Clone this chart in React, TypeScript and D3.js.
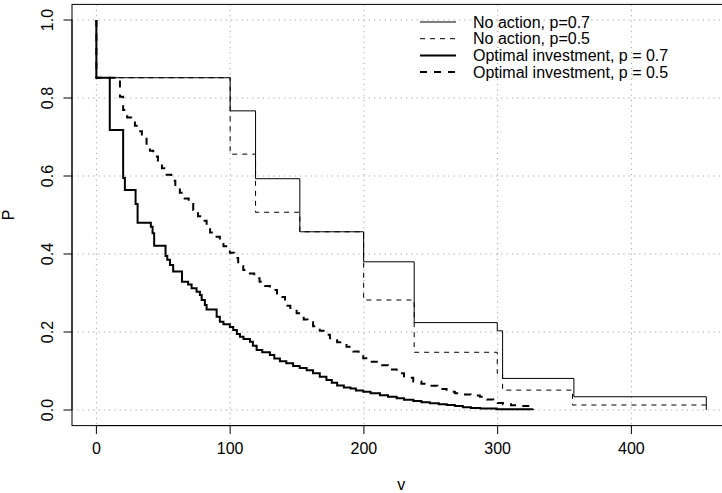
import React from "react";
import * as d3 from "d3";

// ---------- data ----------
const xTicks = [0, 100, 200, 300, 400];
const yTicks = [0, 0.2, 0.4, 0.6, 0.8, 1.0];
const yTickLabels = ["0.0", "0.2", "0.4", "0.6", "0.8", "1.0"];

// No action, p = 0.7 (step function, value holds from v until next v)
const noAct07V = [0, 0, 100, 119, 152.1, 199.8, 237.6, 299.7, 303.7, 357, 456];
const noAct07P = [1.0, 0.852, 0.767, 0.593, 0.457, 0.38, 0.224, 0.203, 0.081, 0.034, 0.0];

// No action, p = 0.5
const noAct05V = [0, 0, 100, 119, 152.1, 199.8, 237.6, 299.7, 303.7, 356, 456];
const noAct05P = [1.0, 0.852, 0.656, 0.507, 0.457, 0.282, 0.148, 0.094, 0.051, 0.0128, 0.0128];

// Optimal investment, p = 0.7
const opt07V = [0, 0, 10, 20, 21.3, 29.3, 30.8, 40.7, 42, 43.2, 51.7, 53, 55, 57.4, 64, 68.6, 71.2, 74.9, 77.4, 78.7, 81.1, 82.4, 89.9, 92.3, 95, 99.8, 102.3, 105, 107.3, 110, 114.8, 117, 119.8, 124, 129.7, 133, 137.2, 142, 147.1, 152, 157.2, 162, 167, 172, 176, 180, 185, 190, 194, 199.5, 205, 212, 218, 224.5, 230, 237, 243, 249.3, 256, 262, 268, 274, 280, 287, 299, 326.6];
const opt07P = [1.0, 0.852, 0.718, 0.595, 0.564, 0.528, 0.48, 0.47, 0.453, 0.421, 0.395, 0.385, 0.372, 0.355, 0.329, 0.322, 0.312, 0.303, 0.295, 0.282, 0.269, 0.258, 0.239, 0.226, 0.22, 0.213, 0.205, 0.195, 0.188, 0.182, 0.175, 0.165, 0.154, 0.148, 0.141, 0.132, 0.125, 0.12, 0.113, 0.108, 0.102, 0.094, 0.085, 0.077, 0.07, 0.063, 0.058, 0.055, 0.05, 0.047, 0.043, 0.038, 0.034, 0.03, 0.026, 0.023, 0.02, 0.017, 0.015, 0.013, 0.01, 0.007, 0.005, 0.004, 0.002, 0.002];

// Optimal investment, p = 0.5
const opt05V = [0, 0, 17.6, 20, 23, 26, 28.8, 31, 34, 37.5, 40, 42.5, 46, 49, 52.5, 56, 59, 62.4, 66, 69, 72.4, 76, 79, 82.4, 85, 87.3, 92.3, 95, 99.8, 103, 106, 109.8, 114, 118, 122, 126, 129.7, 135, 141, 145, 149.7, 155, 158, 162, 167, 171, 174.6, 180, 187, 192, 196, 199.5, 205, 212, 218, 224.5, 230, 236.9, 243, 249.3, 255, 261.8, 268, 274.2, 280, 286.7, 292, 296.7, 300, 304, 310, 316.6, 326.6];
const opt05P = [1.0, 0.852, 0.803, 0.769, 0.75, 0.74, 0.729, 0.715, 0.7, 0.678, 0.665, 0.65, 0.635, 0.62, 0.603, 0.588, 0.572, 0.557, 0.542, 0.528, 0.513, 0.497, 0.485, 0.47, 0.455, 0.444, 0.432, 0.42, 0.403, 0.39, 0.375, 0.359, 0.35, 0.338, 0.329, 0.318, 0.308, 0.29, 0.267, 0.258, 0.248, 0.232, 0.225, 0.215, 0.203, 0.193, 0.184, 0.174, 0.162, 0.15, 0.141, 0.133, 0.124, 0.115, 0.104, 0.094, 0.083, 0.073, 0.067, 0.062, 0.054, 0.047, 0.043, 0.04, 0.037, 0.034, 0.027, 0.021, 0.018, 0.015, 0.012, 0.01, 0.0];

const legendLabels = [
  "No action, p=0.7",
  "No action, p=0.5",
  "Optimal investment, p = 0.7",
  "Optimal investment, p = 0.5",
];

// ---------- layout ----------
const W = 722;
const H = 493;
const left = 72;
const top = 4.4;
const bottom = 425.6;
const right = 730.7;
const FONT = "'Liberation Sans', Arial, Helvetica, sans-serif";

const x = d3.scaleLinear().domain([-18.24, 474.24]).range([left, right]);
const y = d3.scaleLinear().domain([-0.04, 1.04]).range([bottom, top]);

const line = d3
  .line<[number, number]>()
  .x((d) => x(d[0]))
  .y((d) => y(d[1]))
  .curve(d3.curveStepAfter);

const zip = (a: number[], b: number[]): [number, number][] => a.map((v, i) => [v, b[i]]);

const series = [
  { v: noAct07V, p: noAct07P, w: 1, dash: "none" },
  { v: noAct05V, p: noAct05P, w: 1, dash: "5,5" },
  { v: opt07V, p: opt07P, w: 2, dash: "none" },
  { v: opt05V, p: opt05P, w: 2, dash: "7,7" },
];

export default function App() {
  return (
    <svg
      width={W}
      height={H}
      style={{ position: "absolute", left: 0, top: 0, background: "#fff" }}
      fontFamily={FONT}
    >
      <rect x={0} y={0} width={W} height={H} fill="#fff" />
      {/* grid */}
      {xTicks.map((t) => (
        <line key={"gx" + t} x1={x(t)} x2={x(t)} y1={top} y2={bottom} stroke="#a8a8a8" strokeDasharray="1.3,4" strokeWidth={1} />
      ))}
      {yTicks.map((t) => (
        <line key={"gy" + t} x1={left} x2={right} y1={y(t)} y2={y(t)} stroke="#a8a8a8" strokeDasharray="1.3,4" strokeWidth={1} />
      ))}
      {/* series */}
      {series.map((s, i) => (
        <path
          key={"s" + i}
          d={line(zip(s.v, s.p)) || ""}
          fill="none"
          stroke="#000"
          strokeWidth={s.w}
          strokeDasharray={s.dash}
          strokeLinecap="butt"
        />
      ))}
      {/* box */}
      <rect x={left} y={top} width={right - left} height={bottom - top} fill="none" stroke="#000" strokeWidth={1} />
      {/* x axis */}
      <line x1={x(xTicks[0])} x2={x(xTicks[xTicks.length - 1])} y1={bottom} y2={bottom} stroke="#000" />
      {xTicks.map((t) => (
        <g key={"xt" + t}>
          <line x1={x(t)} x2={x(t)} y1={bottom} y2={bottom + 8.5} stroke="#000" />
          <text x={x(t)} y={454} textAnchor="middle" fontSize={16} fill="#000">
            {t}
          </text>
        </g>
      ))}
      {/* y axis */}
      <line x1={left} x2={left} y1={y(0)} y2={y(1)} stroke="#000" />
      {yTicks.map((t, i) => (
        <g key={"yt" + t}>
          <line x1={left - 8.5} x2={left} y1={y(t)} y2={y(t)} stroke="#000" />
          <text
            transform={`translate(${left - 19.2},${y(t)}) rotate(-90)`}
            textAnchor="middle"
            fontSize={16}
            fill="#000"
          >
            {yTickLabels[i]}
          </text>
        </g>
      ))}
      {/* axis titles */}
      <text x={(left + right) / 2} y={490} textAnchor="middle" fontSize={16} fill="#000">
        v
      </text>
      <text transform={`translate(${left - 57.6},${(top + bottom) / 2}) rotate(-90)`} textAnchor="middle" fontSize={16} fill="#000">
        P
      </text>
      {/* legend */}
      {legendLabels.map((lab, i) => {
        const yy = 22 + i * 16.7;
        const s = series[i];
        return (
          <g key={"lg" + i}>
            <line x1={420} x2={456} y1={yy} y2={yy} stroke="#000" strokeWidth={s.w} strokeDasharray={s.dash} />
            <text x={473} y={yy} dominantBaseline="central" fontSize={16} fill="#000">
              {lab}
            </text>
          </g>
        );
      })}
    </svg>
  );
}
